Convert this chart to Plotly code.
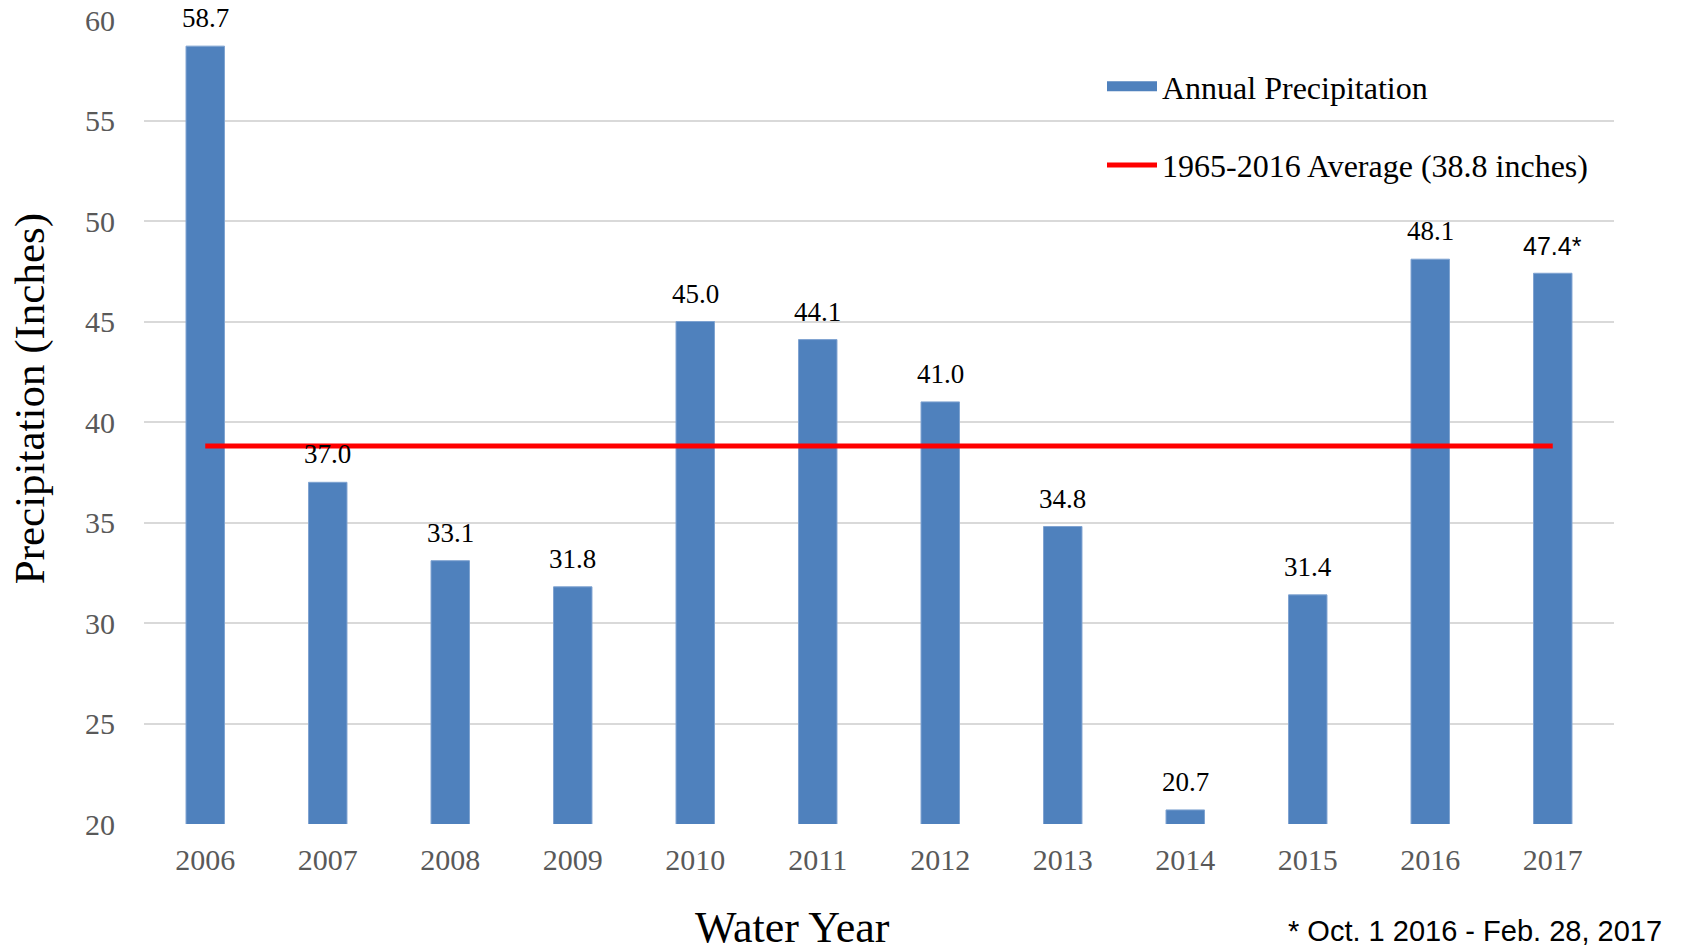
import plotly.graph_objects as go

years = ["2006", "2007", "2008", "2009", "2010", "2011", "2012", "2013", "2014", "2015", "2016", "2017"]
precip = [58.7, 37.0, 33.1, 31.8, 45.0, 44.1, 41.0, 34.8, 20.7, 31.4, 48.1, 47.4]
labels = ["58.7", "37.0", "33.1", "31.8", "45.0", "44.1", "41.0", "34.8", "20.7", "31.4", "48.1", "47.4*"]
average = 38.8
y_ticks = [20, 25, 30, 35, 40, 45, 50, 55, 60]

SERIF = "Liberation Serif"
SANS = "Liberation Sans"
BLUE = "#4f81bd"

fig = go.Figure()
fig.add_trace(go.Bar(
    x=years, y=precip, marker=dict(color=BLUE, line=dict(color="#7fa3d1", width=1)),
    showlegend=False, hoverinfo="skip"))
fig.add_trace(go.Scatter(
    x=[years[0]], y=[None], mode="lines", name="Annual Precipitation",
    line=dict(color=BLUE, width=15), legendgroup="a"))
fig.add_trace(go.Scatter(
    x=years, y=[average] * len(years), mode="lines",
    name="1965-2016 Average (38.8 inches)",
    line=dict(color="#ff0000", width=5), legendgroup="b"))

for i, (v, lab) in enumerate(zip(precip, labels)):
    fam = SANS if lab.endswith("*") else SERIF
    size = 25 if lab.endswith("*") else 27
    fig.add_annotation(x=i, y=v, text=lab, showarrow=False, yanchor="bottom",
                       yshift=11, font=dict(family=fam, size=size, color="#000000"))

fig.add_annotation(xref="paper", yref="paper", x=(792 - 144) / 1470, y=-(928 - 824) / 804.5,
                   text="Water Year", showarrow=False, xanchor="center", yanchor="middle",
                   font=dict(family=SERIF, size=44, color="#000000"))
fig.add_annotation(xref="paper", yref="paper", x=-(144 - 30) / 1470, y=(824 - 399) / 804.5,
                   text="Precipitation (Inches)", showarrow=False, textangle=-90,
                   xanchor="center", yanchor="middle",
                   font=dict(family=SERIF, size=43, color="#000000"))
fig.add_annotation(xref="paper", yref="paper", x=(1664 - 144) / 1470, y=-(931 - 824) / 804.5,
                   text="* Oct. 1 2016 - Feb. 28, 2017", showarrow=False,
                   xanchor="right", yanchor="middle",
                   font=dict(family=SANS, size=29, color="#000000"))

fig.update_layout(
    width=1683, height=952,
    margin=dict(l=144, r=69, t=20, b=128),
    plot_bgcolor="white", paper_bgcolor="white",
    bargap=0.686,
    showlegend=True,
    legend=dict(x=(1102 - 144) / 1470, y=1 - (59 - 20) / 804, xanchor="left", yanchor="top",
                bgcolor="rgba(0,0,0,0)", font=dict(family=SERIF, size=32, color="#000000"),
                tracegroupgap=34, traceorder="grouped", itemwidth=50),
    xaxis=dict(type="category", categoryorder="array", categoryarray=years,
               range=[-0.5, len(years) - 0.5], automargin=False,
               tickfont=dict(family=SERIF, size=30, color="#595959"),
               showgrid=False, showline=False, ticks="outside", ticklen=9,
               tickcolor="rgba(0,0,0,0)"),
    yaxis=dict(range=[20, 60], tickvals=y_ticks, automargin=False,
               tickfont=dict(family=SERIF, size=30, color="#595959"),
               showgrid=True, gridcolor="#d9d9d9", gridwidth=1.5, zeroline=False,
               showline=False, ticks="outside", ticklen=22, tickcolor="rgba(0,0,0,0)"),
)

fig.write_html("out.html")
